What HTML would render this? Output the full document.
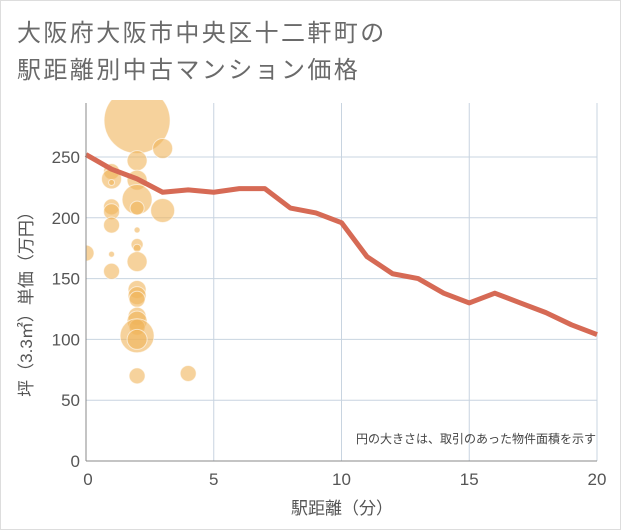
<!DOCTYPE html>
<html><head><meta charset="utf-8"><style>
body{margin:0;background:#fff;font-family:"Liberation Sans","Noto Sans CJK JP",sans-serif;}
#card{position:absolute;left:0;top:0;width:619px;height:528px;border:1px solid #ddd;background:#fff;}
</style></head><body>
<div id="card">
<svg id="chart" width="621" height="530" style="position:absolute;left:-1px;top:-1px">
<defs><clipPath id="plotclip"><rect x="86" y="100" width="512" height="361"/></clipPath></defs>
<text x="17" y="41" font-size="24" letter-spacing="2.4" fill="#6a6a6a" font-family="Liberation Sans, Noto Sans CJK JP, sans-serif">大阪府大阪市中央区十二軒町の</text>
<text x="17" y="78" font-size="24" letter-spacing="2.4" fill="#6a6a6a" font-family="Liberation Sans, Noto Sans CJK JP, sans-serif">駅距離別中古マンション価格</text>
<g id="grid"></g><g id="bubbles" clip-path="url(#plotclip)"></g><g id="line"></g><g id="axes"></g>
<text x="596" y="443" font-size="12" fill="#444" text-anchor="end" font-family="Liberation Sans, Noto Sans CJK JP, sans-serif">円の大きさは、取引のあった物件面積を示す</text>
<text x="342" y="514" font-size="17" fill="#555" text-anchor="middle" font-family="Liberation Sans, Noto Sans CJK JP, sans-serif">駅距離（分）</text>
<text transform="translate(32,300) rotate(-90)" font-size="17" fill="#555" text-anchor="middle" font-family="Liberation Sans, Noto Sans CJK JP, sans-serif">坪（3.3㎡）単価（万円）</text>
</svg></div>
<script>
const xTicks=[0,5,10,15,20];
const yTicks=[0,50,100,150,200,250];
const lineX=[0,1,2,3,4,5,6,7,8,9,10,11,12,13,14,15,16,17,18,19,20];
const lineY=[252,240,232,221,223,221,224,224,208,204,196,168,154,150,138,130,138,130,122,112,104];
const bubX=[2,3,2,1,1,1,2,2,3,1,1,2,1,2,0,1,2,2,2,1,2,2,2,2,2,2,2,2,2,4];
const bubY=[280,257,247,238,232,229,231,215,206,209,205,208,194,190,171,170,178,175,164,156,141,136,133,119,115,110,103,100,70,72];
const bubR=[33,10,10,8,10,3,10,15,12,8,8,7,8,3,8,3,6,4,10,8,9,9,8,9,10,8,17,10,8,8];
const NS="http://www.w3.org/2000/svg";
const X0=86,X1=597,Y0=461,Yt=103;
const sx=v=>X0+v*(X1-X0)/20;
const sy=v=>Y0-v*(Y0-157)/250;
function mk(t,a,p){const e=document.createElementNS(NS,t);for(const k in a)e.setAttribute(k,a[k]);p.appendChild(e);return e;}
const grid=document.getElementById('grid'),axes=document.getElementById('axes');
yTicks.forEach(v=>{if(v>0){const l=mk('line',{x1:X0,x2:X1,y1:sy(v),y2:sy(v),stroke:'#c8d4e0','stroke-width':1},grid);
}
const t=mk('text',{x:X0-6,y:sy(v)+6,'font-size':17,fill:'#555','text-anchor':'end'},axes);t.textContent=v;
});
xTicks.forEach(v=>{if(v>0){const l=mk('line',{x1:sx(v),x2:sx(v),y1:Yt,y2:Y0,stroke:'#c8d4e0','stroke-width':1},grid);
}
const t=mk('text',{x:v===0?sx(v)+2:sx(v),y:485,'font-size':17,fill:'#555','text-anchor':'middle'},axes);t.textContent=v;
});
const la=mk('line',{x1:X0,x2:X0,y1:Yt,y2:Y0,stroke:'#888','stroke-width':1},axes);

const lb=mk('line',{x1:X0,x2:X1,y1:Y0,y2:Y0,stroke:'#888','stroke-width':1},axes);

const bg=document.getElementById('bubbles');
bubX.forEach((v,i)=>{const c=mk('circle',{cx:sx(v),cy:sy(bubY[i]),r:bubR[i],fill:'rgba(240,180,90,0.6)',stroke:'rgba(255,255,255,0.6)','stroke-width':1},bg);
});
const p=mk('polyline',{points:lineX.map((v,i)=>sx(v)+','+sy(lineY[i])).join(' '),fill:'none',stroke:'#d66a55','stroke-width':5,'stroke-linejoin':'round'},document.getElementById('line'));

</script>
</body></html>
